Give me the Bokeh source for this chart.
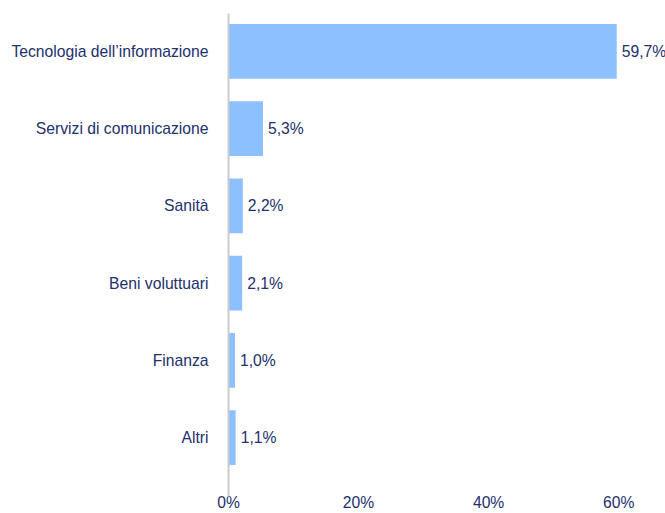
from bokeh.plotting import figure
from bokeh.models import FixedTicker, ColumnDataSource
from bokeh.core.properties import value
from bokeh.embed import file_html
from bokeh.resources import INLINE

categories = ["Tecnologia dell\u2019informazione", "Servizi di comunicazione", "Sanit\u00e0",
              "Beni voluttuari", "Finanza", "Altri"]
values = [59.7, 5.3, 2.2, 2.1, 1.0, 1.1]
value_labels = ["59,7%", "5,3%", "2,2%", "2,1%", "1,0%", "1,1%"]
x_ticks = [0, 20, 40, 60]
x_tick_labels = ["0%", "20%", "40%", "60%"]

n = len(categories)
ypos = [n - 1 - i for i in range(n)]

NAVY = "#22306B"
FONT = "Liberation Sans"
FS = "15.7px"

src = ColumnDataSource(dict(y=ypos, v=values, lab=value_labels))

p = figure(width=665, height=513, output_backend="svg", toolbar_location=None,
           x_range=(0, 67.2), y_range=(-0.763, n - 1 + 0.49),
           min_border_left=228, min_border_right=0, min_border_top=13, min_border_bottom=0)

p.hbar(y="y", left=0, right="v", height=0.71, source=src, color="#8CC0FF", line_color=None)
p.text(x="v", y="y", text="lab", source=src, x_offset=5, text_align="left",
       text_baseline="middle", text_font=value(FONT), text_font_size=FS, text_color=NAVY)

p.xgrid.visible = False
p.ygrid.visible = False
p.outline_line_color = None

xa = p.xaxis[0]
xa.ticker = FixedTicker(ticks=x_ticks)
xa.major_label_overrides = {t: l for t, l in zip(x_ticks, x_tick_labels)}
xa.axis_line_color = None
xa.major_tick_line_color = None
xa.minor_tick_line_color = None
xa.major_label_standoff = -9
xa.major_label_text_font = FONT
xa.major_label_text_font_size = FS
xa.major_label_text_color = NAVY

ya = p.yaxis[0]
ya.ticker = FixedTicker(ticks=ypos)
ya.major_label_overrides = {y: c for y, c in zip(ypos, categories)}
ya.axis_line_color = "#CCCCCC"
ya.axis_line_width = 2
ya.major_tick_line_color = None
ya.minor_tick_line_color = None
ya.major_label_standoff = 14
ya.major_label_text_font = FONT
ya.major_label_text_font_size = FS
ya.major_label_text_color = NAVY

open("out.html", "w").write(file_html(p, INLINE))
